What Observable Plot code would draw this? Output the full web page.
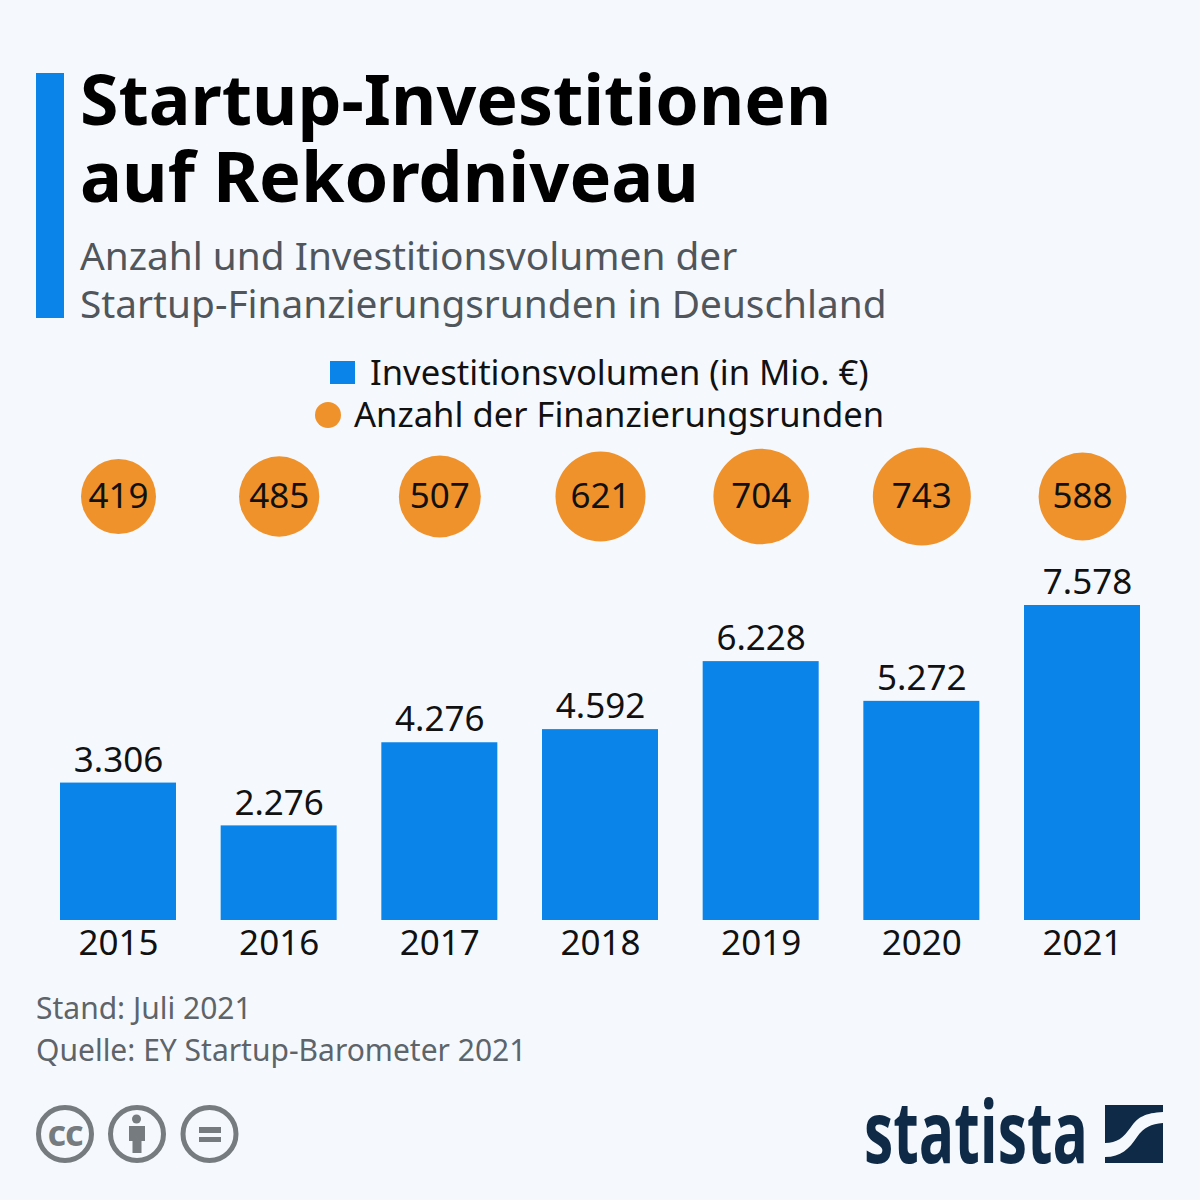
<!DOCTYPE html>
<html><head><meta charset="utf-8">
<script src="https://cdn.jsdelivr.net/npm/d3@7"></script>
<script src="https://cdn.jsdelivr.net/npm/@observablehq/plot@0.6"></script>
<style>
html,body{margin:0;padding:0;background:#f5f9fd;}
body{width:1200px;height:1200px;position:relative;overflow:hidden;font-family:"Noto Sans",sans-serif;}
.abs{position:absolute;white-space:nowrap;}
</style></head><body>
<div id="root"></div>
<script>
const years=["2015","2016","2017","2018","2019","2020","2021"];
const volume=[3306,2276,4276,4592,6228,5272,7578];
const rounds=[419,485,507,621,704,743,588];
const volumeLabels=["3.306","2.276","4.276","4.592","6.228","5.272","7.578"];
const titleLines=["Startup-Investitionen","auf Rekordniveau"];
const subtitleLines=["Anzahl und Investitionsvolumen der","Startup-Finanzierungsrunden in Deuschland"];
const captionLines=["Stand: Juli 2021","Quelle: EY Startup-Barometer 2021"];
const table=years.map((y,i)=>({y,v:volume[i],n:rounds[i],l:volumeLabels[i]}));
const root=document.getElementById("root");
function txt(t,x,y,size,color,weight,extra){const d=document.createElement("div");d.className="abs";d.textContent=t;
 d.style.cssText+=`left:${x}px;top:${y}px;font-size:${size}px;line-height:${size}px;color:${color};font-weight:${weight||400};`+(extra||"");root.appendChild(d);return d;}
const bar=document.createElement("div");bar.className="abs";bar.style.cssText+="left:36px;top:73px;width:28px;height:245px;background:#0a84e8;";root.appendChild(bar);
txt(titleLines[0],80,63,69.8,"#000",700);
txt(titleLines[1],80,140,70.2,"#000",700);
txt(subtitleLines[0],80,236,38.8,"#50565b");
txt(subtitleLines[1],80,284,38.8,"#50565b");
const lg1=document.createElement("div");lg1.className="abs";lg1.style.cssText+="left:330px;top:361px;width:25px;height:23px;background:#0a84e8;";root.appendChild(lg1);
txt("Investitionsvolumen (in Mio. €)",370,355,34.6,"#111");
const lg2=document.createElement("div");lg2.className="abs";lg2.style.cssText+="left:315px;top:402px;width:26px;height:26px;border-radius:50%;background:#f0922b;";root.appendChild(lg2);
txt("Anzahl der Finanzierungsrunden",354,397,34.6,"#111");
txt(captionLines[0],36,993,30,"#5d646a");
txt(captionLines[1],36,1035,30,"#5d646a");
const plot=Plot.plot({width:1200,height:540,marginLeft:37.5,marginRight:37.5,marginTop:0,marginBottom:0,
 style:{background:"transparent",fontFamily:"'Noto Sans',sans-serif",overflow:"visible"},
 x:{domain:years,paddingInner:0.278,paddingOuter:0.14,axis:null,align:0.5,round:false},
 y:{domain:[0,7578],range:[480,165],axis:null},
 r:{type:"sqrt",domain:[419,743],range:[37.5,49]},
 marks:[
  Plot.barY(table,{x:"y",y:"v",fill:"#0a84e8"}),
  Plot.dot(table,{x:"y",frameAnchor:"top",dy:56,r:"n",fill:"#f0922b"}),
  Plot.text(table,{x:"y",frameAnchor:"top",lineAnchor:"middle",dy:56,text:d=>String(d.n),fontSize:35,fill:"#111"}),
  Plot.text(table,{filter:d=>d.y!=="2021",x:"y",y:"v",text:"l",dy:-22.5,fontSize:35,fill:"#111"}),
  Plot.text(table,{filter:d=>d.y==="2021",x:"y",y:"v",text:"l",dy:-23,dx:5,fontSize:35,fill:"#111"}),
  Plot.text(table,{x:"y",y:0,text:"y",dy:23,fontSize:35,fill:"#111"})
 ]});
plot.style.position="absolute";plot.style.left="0";plot.style.top="440px";
root.appendChild(plot);
// licence icons
const ic=document.createElement("div");ic.className="abs";ic.style.cssText+="left:36px;top:1105px;";
ic.innerHTML=`<svg width="210" height="60" style="display:block">
<g fill="none" stroke="#757b7e" stroke-width="5"><circle cx="29" cy="29" r="26.5"/><circle cx="101" cy="29" r="26.5"/><circle cx="173.5" cy="29" r="26.5"/></g>
<text x="29" y="41" text-anchor="middle" font-size="36" letter-spacing="-1" font-weight="700" fill="#757b7e" font-family="Noto Sans">cc</text>
<circle cx="100.5" cy="14" r="4.5" fill="#757b7e"/><rect x="93" y="21" width="16" height="15" fill="#757b7e"/><rect x="96.5" y="35" width="9" height="13" fill="#757b7e"/>
<rect x="163" y="22" width="22" height="6" fill="#757b7e"/><rect x="163" y="32" width="22" height="5" fill="#757b7e"/></svg>`;
root.appendChild(ic);
const wm=document.createElement("div");wm.className="abs";wm.style.cssText+="left:864px;top:1090px;";
wm.innerHTML=`<svg width="236" height="90" style="display:block;overflow:visible"><text x="0" y="73" font-size="86" font-weight="700" fill="#0f2a47" textLength="224" lengthAdjust="spacingAndGlyphs" font-family="'Liberation Sans Narrow','Open Sans',sans-serif">statista</text></svg>`;
root.appendChild(wm);
const lg=document.createElement("div");lg.className="abs";lg.style.cssText+="left:1105px;top:1105px;";
lg.innerHTML=`<svg width="60" height="60" style="display:block"><path d="M0 0H58V7C40 8 33 12 26 22C18 33 12 38 0 38Z" fill="#0f2a47"/><path d="M58 18V58H0V52C16 52 24 44 32 32C39 22 46 19 58 18Z" fill="#0f2a47"/></svg>`;
root.appendChild(lg);
</script></body></html>
